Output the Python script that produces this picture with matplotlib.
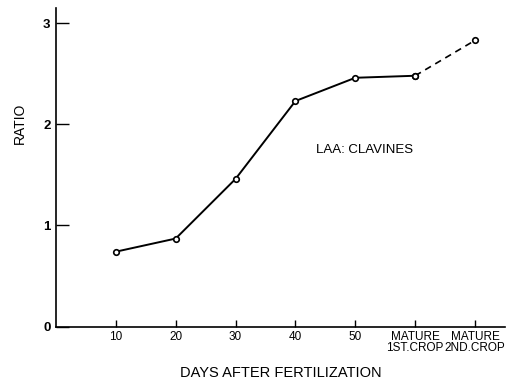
import matplotlib
matplotlib.use("Agg")
import matplotlib.pyplot as plt

categories = ["10", "20", "30", "40", "50", "MATURE\n1ST.CROP", "MATURE\n2ND.CROP"]
ratios = [0.74, 0.87, 1.46, 2.23, 2.46, 2.48, 2.83]
yticks = [0, 1, 2, 3]

plt.rcParams['font.family'] = ['Liberation Sans', 'DejaVu Sans']

fig = plt.figure(figsize=(5.09, 3.81), dpi=100)
ax = fig.add_axes([0.110, 0.143, 0.882, 0.836])

pos = list(range(1, len(categories) + 1))
# solid segment through first crop, dashed to second crop
ax.plot(pos[:-1], ratios[:-1], color='black', lw=1.4, marker='o', ms=4,
        mfc='white', mec='black', mew=1.2)
ax.plot(pos[-2:], ratios[-2:], color='black', lw=1.2, ls=(0, (4, 3)),
        marker='o', ms=4, mfc='white', mec='black', mew=1.2)

ax.set_xlim(0, 7.5)
ax.set_ylim(0, 3.15)
ax.set_xticks(pos)
ax.set_xticklabels(categories, fontsize=8.5, linespacing=0.9)
ax.set_yticks(yticks)
ax.set_yticklabels([str(t) for t in yticks], fontsize=9.5, fontweight='bold')
ax.tick_params(axis='both', direction='in', length=5, width=1, pad=3)
ax.tick_params(axis='y', length=9, pad=4)

for s in ['top', 'right']:
    ax.spines[s].set_visible(False)
for s in ['left', 'bottom']:
    ax.spines[s].set_linewidth(1.2)

ax.set_ylabel("RATIO", fontsize=10)
ax.yaxis.set_label_coords(-0.08, 0.639)
ax.set_xlabel("DAYS AFTER FERTILIZATION", fontsize=10.5)
ax.xaxis.set_label_coords(0.5, -(373 - 326.5) / 318.5 - 0.0)
ax.xaxis.label.set_va('center')
ax.yaxis.label.set_va('center')

ax.text(5.15, 1.75, "LAA: CLAVINES", fontsize=9.5, ha='center', va='center')

fig.savefig("out.png", dpi=100)
